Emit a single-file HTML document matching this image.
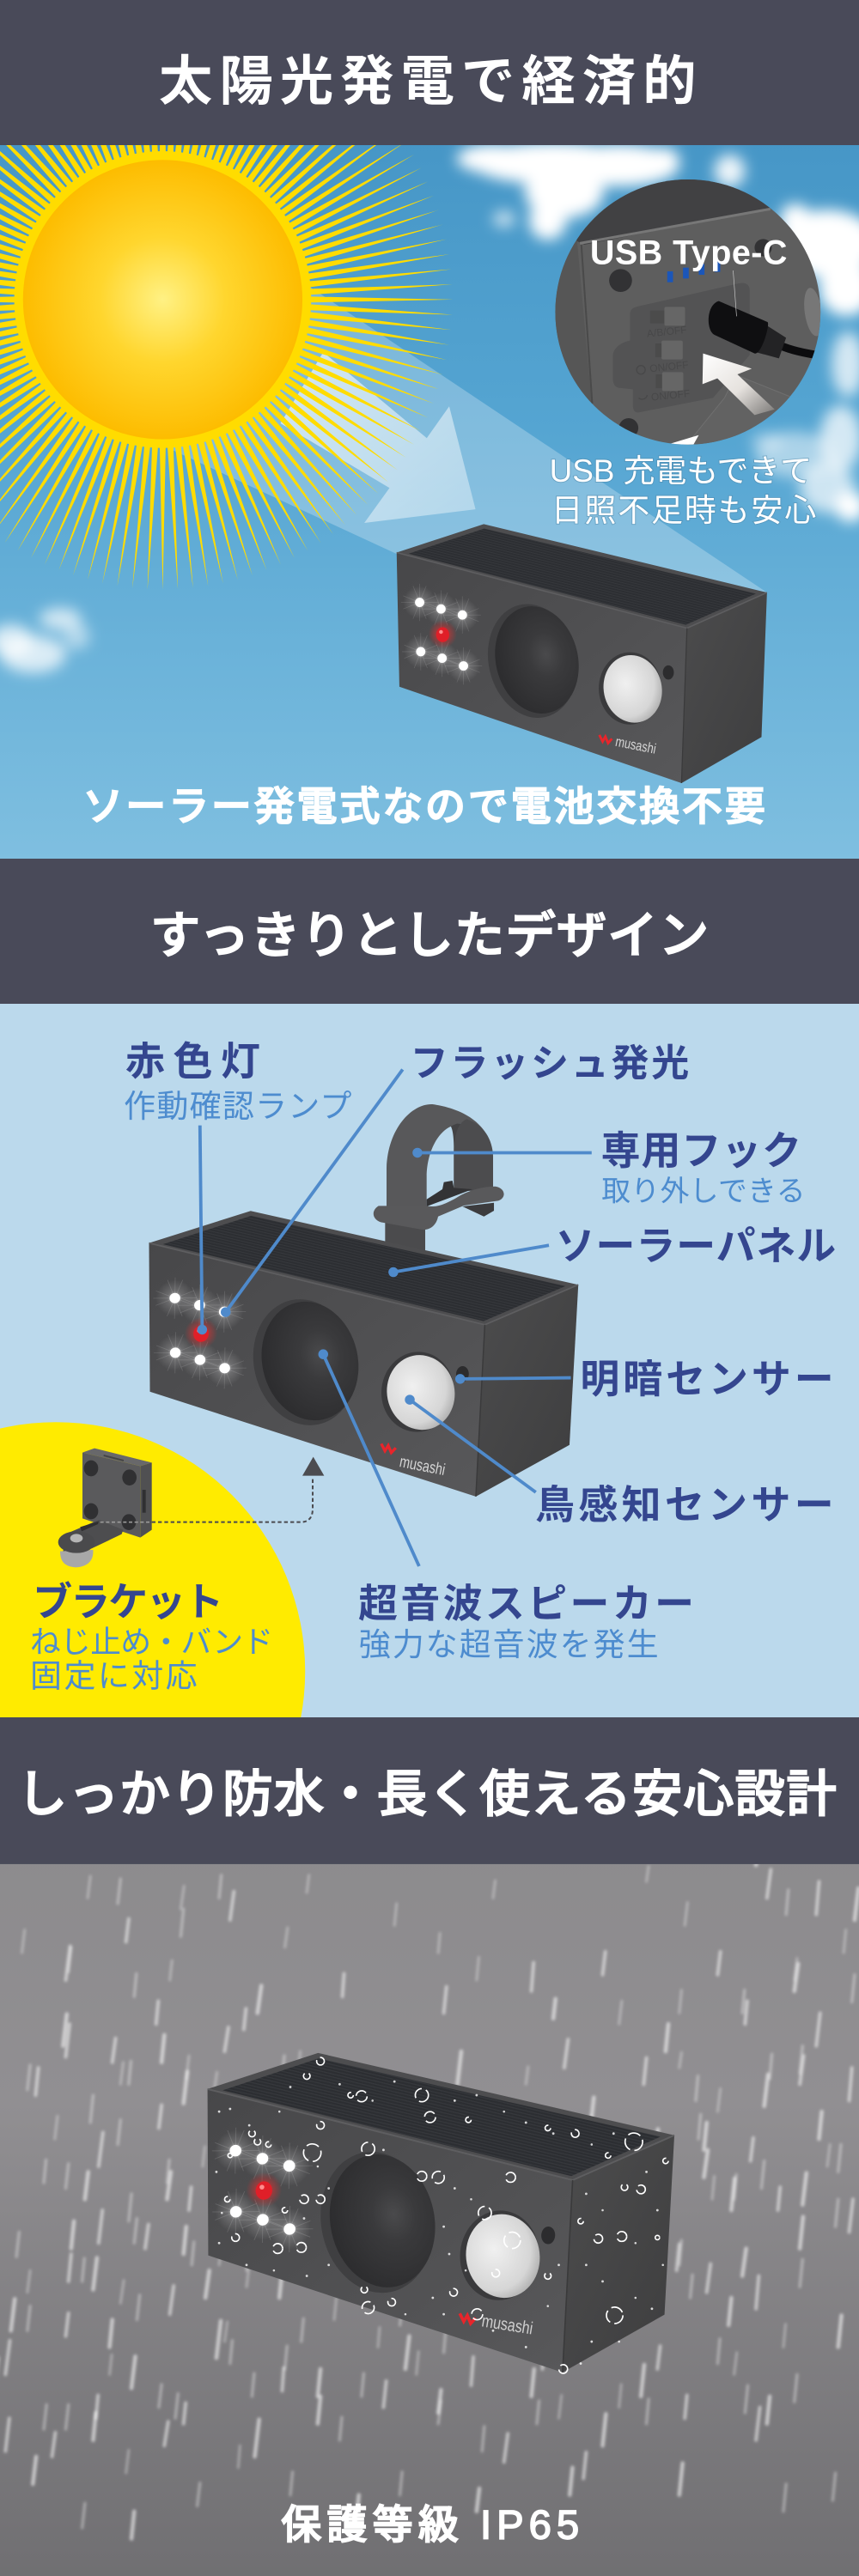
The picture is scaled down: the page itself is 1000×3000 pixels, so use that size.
<!DOCTYPE html>
<html lang="ja"><head><meta charset="utf-8"><title>太陽光発電で経済的</title>
<style>
html,body{margin:0;padding:0;background:#fff}
svg{display:block}
text{font-family:"Liberation Sans","Noto Sans CJK JP",sans-serif}
.h{fill:#fff;font-weight:700}
.m{fill:#fff;font-weight:500;stroke:#fff;stroke-width:2.6}
.l{fill:#34468f;font-weight:700;font-size:72px}
.s{fill:#4d8ccf;font-weight:400}
.c{stroke:#4f8acb;stroke-width:6;fill:none}
.d{fill:#4f8acb}
</style></head><body>
<svg xmlns="http://www.w3.org/2000/svg" width="1000" height="3000" viewBox="0 0 1000 3000">
<defs>
<clipPath id="sec"><rect width="1568" height="1568"/></clipPath>
<clipPath id="ins"><circle cx="512" cy="490" r="463"/></clipPath>
<linearGradient id="sky" x1="0" y1="0" x2="0" y2="1"><stop offset="0" stop-color="#3f8fc1"/><stop offset=".5" stop-color="#55a5d2"/><stop offset="1" stop-color="#7fbfe0"/></linearGradient>
<radialGradient id="sun"><stop offset="0" stop-color="#fff184"/><stop offset=".45" stop-color="#ffd62e"/><stop offset="1" stop-color="#fdbc00"/></radialGradient>
<linearGradient id="fr" x1="0" y1="0" x2="1" y2="1"><stop offset="0" stop-color="#474749"/><stop offset="1" stop-color="#58585a"/></linearGradient>
<linearGradient id="rt" x1="0" y1="0" x2="1" y2="1"><stop offset="0" stop-color="#4c4c4d"/><stop offset="1" stop-color="#3e3e3f"/></linearGradient>
<radialGradient id="spk" cx=".62" cy=".47" r=".6"><stop offset="0" stop-color="#4a4a4c"/><stop offset=".35" stop-color="#3a3a3c"/><stop offset="1" stop-color="#2d2d2f"/></radialGradient>
<radialGradient id="pir" cx=".4" cy=".4" r=".7"><stop offset="0" stop-color="#f0f0f0"/><stop offset=".7" stop-color="#d6d6d6"/><stop offset="1" stop-color="#a4a4a4"/></radialGradient>
<radialGradient id="gl"><stop offset="0" stop-color="#fff" stop-opacity=".7"/><stop offset=".4" stop-color="#fff" stop-opacity=".18"/><stop offset="1" stop-color="#fff" stop-opacity="0"/></radialGradient>
<radialGradient id="rg"><stop offset="0" stop-color="#ff2a2a" stop-opacity=".8"/><stop offset="1" stop-color="#ff2a2a" stop-opacity="0"/></radialGradient>
<linearGradient id="arr" x1="0" y1="0" x2="1" y2="1"><stop offset="0" stop-color="#fff" stop-opacity=".85"/><stop offset="1" stop-color="#fff" stop-opacity=".45"/></linearGradient>
<linearGradient id="usbarr" x1="0" y1="0" x2="1" y2="1"><stop offset="0" stop-color="#fff"/><stop offset=".55" stop-color="#e6e2de"/><stop offset="1" stop-color="#7a7876"/></linearGradient>
<linearGradient id="gray" x1="0" y1="0" x2="0" y2="1"><stop offset="0" stop-color="#8a898b"/><stop offset=".45" stop-color="#918f92"/><stop offset="1" stop-color="#706f72"/></linearGradient>
<pattern id="sol" width="4.4" height="4.4" patternUnits="userSpaceOnUse" patternTransform="rotate(14)"><rect width="4.4" height="4.4" fill="#2c2e32"/><rect width="4.4" height="1.5" fill="#36383c"/></pattern>
<filter id="b8" x="-40%" y="-40%" width="180%" height="180%"><feGaussianBlur stdDeviation="13"/></filter>
<filter id="b1" x="-100%" y="-30%" width="300%" height="160%"><feGaussianBlur stdDeviation="2.6"/></filter>

<polygon id="ray" points="262,-5.6 530,0 262,5.6" fill="#ffdc00"/>
<g id="r5"><use href="#ray"/><use href="#ray" transform="rotate(3)"/><use href="#ray" transform="rotate(6)"/><use href="#ray" transform="rotate(9)"/><use href="#ray" transform="rotate(12)"/></g>
<g id="r20"><use href="#r5"/><use href="#r5" transform="rotate(15)"/><use href="#r5" transform="rotate(30)"/><use href="#r5" transform="rotate(45)"/></g>
<g id="r120"><use href="#r20"/><use href="#r20" transform="rotate(60)"/><use href="#r20" transform="rotate(120)"/><use href="#r20" transform="rotate(180)"/><use href="#r20" transform="rotate(240)"/><use href="#r20" transform="rotate(300)"/></g>

<g id="led"><circle r="30" fill="url(#gl)"/><g stroke="#fff" stroke-opacity=".13" stroke-width="1.2"><path d="M-30 -12L30 12M-30 12L30 -12M-12 -30L12 30M12 -30L-12 30M-34 0H34M0 -34V34"/></g><circle r="8.5" fill="#fff"/></g>

<g id="box">
<polygon points="724,1009 883,957 1400,1082 1254,1147" fill="#4d4d4f"/>
<polygon points="746,1011 884,965 1380,1084 1252,1141" fill="url(#sol)"/>
<polygon points="724,1009 1254,1147 1244,1430 729,1254" fill="url(#fr)"/>
<polygon points="1254,1147 1400,1082 1390,1346 1244,1430" fill="url(#rt)"/>
<path d="M724 1009L1254 1147L1400 1082" fill="none" stroke="#5e5e60" stroke-width="2.5"/>
<path d="M1254 1147L1244 1430" fill="none" stroke="#3a3a3b" stroke-width="2"/>
<ellipse cx="972" cy="1207" rx="80" ry="105" transform="rotate(-13 972 1207)" fill="#3f3f41"/>
<ellipse cx="980" cy="1205" rx="75" ry="99" transform="rotate(-13 980 1205)" fill="url(#spk)"/>
<ellipse cx="1150" cy="1257" rx="57" ry="66" fill="#3a3a3c"/>
<ellipse cx="1155" cy="1258" rx="53" ry="62" transform="rotate(-12 1155 1258)" fill="url(#pir)"/>
<ellipse cx="1220" cy="1228" rx="10" ry="13" fill="#2c2c2e"/>
<use href="#led" x="766" y="1100"/><use href="#led" x="805" y="1112"/><use href="#led" x="844" y="1123"/>
<use href="#led" x="768" y="1190"/><use href="#led" x="807" y="1202"/><use href="#led" x="846" y="1216"/>
<circle cx="808" cy="1158" r="26" fill="url(#rg)"/>
<ellipse cx="808" cy="1159" rx="12" ry="13.5" fill="#e01f28"/><circle cx="805" cy="1154" r="3.5" fill="#ff8d8d"/>
<path d="M1094 1342L1100 1354L1105 1345L1110 1357L1117 1349" fill="none" stroke="#e8252b" stroke-width="4.5"/>
</g>

<g id="rainA" stroke="#fff" stroke-linecap="round" fill="none">
<path stroke-width="6" stroke-opacity=".55" d="M120 480l8-62M230 410l5-42M420 370l7-52M625 510l3-42M285 560l4-42M120 620l7-60M65 690l5-50M205 630l6-44M445 570l4-38M410 610l7-44M810 540l5-48M970 500l4-52M1030 640l7-52M1175 670l5-48M1400 330l7-52M1490 360l5-60M1310 470l5-42M1490 600l7-60M1360 560l4-42M1100 470l5-42"/>
<path stroke-width="4.5" stroke-opacity=".35" d="M160 330l5-40M330 350l6-42M520 420l5-36M720 380l4-40M900 330l4-32M1250 380l5-42M1180 300l4-28M1450 480l5-40M40 430l5-42M310 480l4-36M560 320l4-32M800 430l3-36M1130 560l5-42M1240 540l4-42M340 660l5-42M545 650l3-40M870 480l4-42M1540 430l4-42"/>
</g>
<g id="rainB" stroke="#fff" stroke-linecap="round" fill="none">
<path stroke-width="7" stroke-opacity=".58" d="M465 1350l8-68M240 1225l7-58M580 1240l5-50M740 1190l7-60M200 1150l5-50M20 1120l7-58M375 1060l7-50M1080 730l4-36M1285 790l5-50M1465 890l7-58M1355 1020l7-50M1240 1420l6-58M1400 1290l5-50M1100 1330l6-58M1530 1150l6-58M1040 1420l5-50M60 1400l6-50M240 1500l5-50M650 1470l5-50M870 1450l5-42"/>
<path stroke-width="5" stroke-opacity=".38" d="M120 860l5-45M235 920l5-50M30 985l5-45M305 850l4-42M150 1030l4-42M320 1280l5-45M120 1300l5-45M520 1190l4-42M420 1180l4-42M620 1320l4-42M800 1290l5-42M980 1290l4-42M1180 1290l4-45M1310 1180l4-45M1460 1040l5-50M1530 830l5-50M1340 880l4-45M1260 1060l4-42M1430 1450l5-50M1520 1430l5-50M880 1340l4-45M730 1420l4-42M530 1420l4-42M360 1440l5-42M150 1480l5-45"/>
</g>
</defs>

<!-- SECTION 1 -->
<g transform="scale(.63776)" clip-path="url(#sec)">
<rect width="1568" height="1568" fill="url(#sky)"/>
<g fill="#fff" filter="url(#b8)">
<ellipse cx="900" cy="290" rx="66" ry="26"/><ellipse cx="1010" cy="298" rx="150" ry="38"/><ellipse cx="1130" cy="302" rx="110" ry="38"/><ellipse cx="1030" cy="350" rx="72" ry="48"/><ellipse cx="1000" cy="402" rx="34" ry="36"/><ellipse cx="1210" cy="292" rx="30" ry="22"/><ellipse cx="1332" cy="312" rx="28" ry="30" fill-opacity=".9"/><ellipse cx="920" cy="400" rx="20" ry="15" fill-opacity=".7"/>
<ellipse cx="1510" cy="445" rx="90" ry="62"/><ellipse cx="1545" cy="525" rx="50" ry="52"/><ellipse cx="1452" cy="400" rx="28" ry="28"/><ellipse cx="1548" cy="665" rx="30" ry="60" fill-opacity=".75"/><ellipse cx="1535" cy="800" rx="38" ry="60" fill-opacity=".75"/><ellipse cx="1450" cy="830" rx="70" ry="42" fill-opacity=".5"/><ellipse cx="1510" cy="890" rx="50" ry="46" fill-opacity=".7"/><ellipse cx="1552" cy="925" rx="28" ry="28"/><ellipse cx="1400" cy="806" rx="30" ry="16" fill-opacity=".4"/>
<ellipse cx="60" cy="1195" rx="60" ry="34" fill-opacity=".75"/><ellipse cx="110" cy="1130" rx="38" ry="20" fill-opacity=".7"/><ellipse cx="20" cy="1170" rx="40" ry="30" fill-opacity=".75"/><ellipse cx="140" cy="1162" rx="24" ry="24" fill-opacity=".5"/>
</g>
<polygon points="560,520 1400,1082 1254,1300 725,1012 300,815" fill="#fff" fill-opacity=".26"/>
<polygon points="868,930 820,742 779,800 590,643 512,773 711,891 665,955" fill="url(#arr)" fill-opacity=".8"/>
<circle cx="297" cy="547" r="271" fill="#ffdc00"/>
<use href="#r120" transform="translate(297,547)"/>
<circle cx="297" cy="547" r="255" fill="url(#sun)"/>

<!-- USB inset -->
<g transform="translate(988,313.6) scale(.5227)" clip-path="url(#ins)">
<rect width="1020" height="1000" fill="#5e5e5e"/>
<polygon points="0,0 1020,0 1020,90 800,128 150,255 120,240 0,300" fill="#414143"/>
<path d="M135 250L800 130" stroke="#777" stroke-width="9"/>
<polygon points="0,300 125,240 175,800 200,1000 0,1000" fill="#565656"/>
<path d="M140 255L178 810" stroke="#4a4a4a" stroke-width="6"/>
<circle cx="277" cy="380" r="40" fill="#323234"/><circle cx="775" cy="265" r="30" fill="#323234"/><circle cx="305" cy="895" r="34" fill="#323234"/>
<path d="M310 500C310 480 320 475 340 470L690 390C715 385 728 395 728 415V640L600 790L345 840C325 845 320 830 320 815V760L270 755C255 750 250 740 250 720V640C255 610 285 595 310 590Z" fill="#535354"/>
<rect x="380" y="485" width="60" height="45" fill="#4b4b4b"/><rect x="430" y="472" width="72" height="66" rx="6" fill="#666"/>
<rect x="398" y="600" width="40" height="48" fill="#4b4b4b"/><rect x="420" y="590" width="74" height="66" rx="6" fill="#666"/>
<rect x="400" y="708" width="40" height="48" fill="#4b4b4b"/><rect x="422" y="700" width="74" height="66" rx="6" fill="#666"/>
<g fill="#484849" font-size="36"><text x="370" y="578" transform="rotate(-6 370 578)">A/B/OFF</text><text x="380" y="700" transform="rotate(-6 380 700)">ON/OFF</text><text x="385" y="800" transform="rotate(-6 385 800)">ON/OFF</text></g>
<circle cx="348" cy="692" r="15" fill="none" stroke="#484849" stroke-width="4"/><path d="M340 790a18 18 0 0 0 30 -10" fill="none" stroke="#484849" stroke-width="4"/>
<g fill="#1b56b9"><rect x="440" y="348" width="20" height="38"/><rect x="495" y="335" width="20" height="38"/><rect x="550" y="322" width="20" height="38"/><rect x="605" y="312" width="20" height="38"/></g>
<ellipse cx="950" cy="490" rx="30" ry="85" fill="#777" transform="rotate(-8 950 490)"/>
<path d="M805 595C860 620 900 630 960 640" fill="none" stroke="#0c0c0e" stroke-width="28"/>
<polygon points="745,510 855,580 830,652 730,625" fill="#232325"/>
<path d="M620 452L790 525C800 530 770 640 745 635L605 570C575 555 575 465 620 452Z" fill="#0f0f11"/>
<path d="M680 710L880 790L720 1000H470L640 790Z" fill="#626262" stroke="#6f6f6f" stroke-width="3"/>
<polygon points="565,635 735,688 685,708 815,830 745,850 615,722 563,742" fill="url(#usbarr)"/>
<polygon points="450,950 550,920 525,965 450,965" fill="#fff"/>
<path d="M670 345L682 505" stroke="#ccc" stroke-width="2"/>
</g>
<text x="1077" y="482" font-size="62" font-weight="700" fill="#fff" textLength="360">USB Type-C</text>
<g fill="#fff" font-size="58" style="paint-order:stroke" stroke="#4d86a8" stroke-opacity=".5" stroke-width="3">
<text x="1003" y="880" textLength="479">USB 充電もできて</text>
<text x="1006" y="952" textLength="484">日照不足時も安心</text>
</g>

<use href="#box"/>
<text x="1122" y="1362" font-size="26" fill="#d6d6d6" transform="rotate(11 1122 1362)" textLength="75" lengthAdjust="spacingAndGlyphs">musashi</text>

<rect width="1568" height="265" fill="#494a59"/>
<text class="h" x="290" y="182" font-size="98" textLength="981">太陽光発電で経済的</text>
<text class="m" x="151" y="1498" font-size="74" textLength="1246">ソーラー発電式なので電池交換不要</text>
</g>

<!-- SECTION 2 -->
<g transform="translate(0,1000) scale(.63776)" clip-path="url(#sec)">
<rect width="1568" height="1568" fill="#bbd9ec"/>
<circle cx="102" cy="1484" r="455" fill="#ffeb00"/>

<!-- hook -->
<g transform="translate(627.2,423.4) scale(.5227)">
<rect x="145" y="450" width="140" height="130" fill="#4b4b4d"/>
<polygon points="415,405 525,392 525,420 490,440" fill="#3c3c3e"/>
<path d="M385 350V200C385 150 378 125 370 120C430 100 510 130 520 230V350Z" fill="#434345"/>
<path d="M150 420V270C155 130 240 45 310 48C430 65 515 125 522 230C500 140 430 90 375 125C320 150 290 230 290 300V440Z" fill="#58585a"/>
<path d="M385 350V210C385 160 400 110 430 100C490 120 520 170 522 230V350Z" fill="#4c4c4e"/>
<polygon points="290,380 345,345 350,320 380,315 385,340 450,345 290,405" fill="#333335"/>
<path d="M122 403H290C320 408 345 405 410 365C450 345 490 335 530 335C565 340 570 375 540 385L420 402L330 440C322 480 290 490 270 485L130 460C100 450 95 420 122 403Z" fill="#59595b"/>
</g>

<use href="#box" transform="matrix(1.161,-.007,-.017,1.108,-551.4,-411)"/>
<text x="728" y="1110" font-size="30" fill="#d6d6d6" transform="rotate(11 728 1110)" textLength="84" lengthAdjust="spacingAndGlyphs">musashi</text>

<!-- bracket -->
<g transform="translate(0,1019.2) scale(.5227)">
<polygon points="288,125 330,110 530,160 490,172" fill="#68686a"/>
<polygon points="490,172 530,160 530,395 490,422" fill="#505052"/>
<polygon points="288,125 490,172 490,422 288,355" fill="#5a5a5c"/>
<g fill="#303032"><ellipse cx="318" cy="180" rx="25" ry="28"/><ellipse cx="452" cy="212" rx="25" ry="28"/><ellipse cx="318" cy="330" rx="25" ry="28"/><ellipse cx="450" cy="368" rx="25" ry="28"/></g>
<rect x="497" y="255" width="12" height="80" fill="#2f2f31"/>
<polygon points="362,132 432,150 432,156 362,138" fill="#444"/>
<path d="M240 405L345 360L430 395L425 410L320 460L220 470Z" fill="#4d4d4f"/>
<path d="M210 470C210 505 225 524 265 526C310 524 328 498 325 465Z" fill="#a8a8a8"/>
<ellipse cx="267" cy="438" rx="64" ry="38" fill="#4a4a4c"/>
<ellipse cx="267" cy="424" rx="22" ry="15" fill="#b5b5b5"/>
<path d="M280 385L345 365L342 375L285 400Z" fill="#2f2f31"/>
<path d="M350 368H530" stroke="#9a9a9a" stroke-width="5" stroke-dasharray="12 8"/>
<path d="M530 368H1050Q1092 368 1092 320V210" fill="none" stroke="#4a4a4f" stroke-width="6" stroke-dasharray="13 9"/>
<polygon points="1094,140 1132,206 1056,206" fill="#4c4c50"/>
</g>

<g class="c">
<path class="c" d="M365 487L369 860"/><path class="c" d="M735 385L412 828"/><path class="c" d="M1080 537H762"/><path class="c" d="M1002 706L718 755"/><path class="c" d="M1042 948L840 950"/><path class="c" d="M978 1157L748 988"/><path class="c" d="M765 1292L590 905"/>
</g>
<g class="d"><circle cx="369" cy="860" r="9"/><circle cx="412" cy="828" r="9"/><circle cx="762" cy="537" r="9"/><circle cx="718" cy="755" r="9"/><circle cx="840" cy="950" r="9"/><circle cx="748" cy="988" r="9"/><circle cx="590" cy="905" r="9"/></g>

<text class="l" x="229" y="395" textLength="246">赤色灯</text>
<text class="s" x="226" y="472" font-size="58" textLength="416">作動確認ランプ</text>
<text class="l" x="749" y="397" style="font-size:69px" textLength="509">フラッシュ発光</text>
<text class="l" x="1097" y="558" textLength="366">専用フック</text>
<text class="s" x="1098" y="625" font-size="53" textLength="372">取り外しできる</text>
<text class="l" x="1014" y="732" textLength="512">ソーラーパネル</text>
<text class="l" x="1059" y="975" textLength="463">明暗センサー</text>
<text class="l" x="977" y="1205" textLength="545">鳥感知センサー</text>
<text class="l" x="654" y="1385" textLength="613">超音波スピーカー</text>
<text class="s" x="655" y="1455" font-size="58" textLength="547">強力な超音波を発生</text>
<text class="l" x="60" y="1382" textLength="348">ブラケット</text>
<text class="s" x="55" y="1450" font-size="56" textLength="444">ねじ止め・バンド</text>
<text class="s" x="55" y="1512" font-size="58" textLength="305">固定に対応</text>

<rect width="1568" height="265" fill="#494a59"/>
<text class="m" x="274" y="172" font-size="92" textLength="1020">すっきりとしたデザイン</text>
</g>

<!-- SECTION 3 -->
<g transform="translate(0,2000) scale(.63776)" clip-path="url(#sec)">
<rect width="1568" height="1568" fill="url(#gray)"/>
<g filter="url(#b1)"><use href="#rainA"/><use href="#rainB"/><use href="#rainA" transform="translate(60,340)"/><use href="#rainB" transform="translate(-70,-180)"/><use href="#rainA" transform="translate(-110,720)"/><use href="#rainB" transform="translate(95,-520)"/></g>

<use href="#box" transform="matrix(1.2628,-.0092,-.0204,1.2403,-514.9,-566)"/>
<text x="878" y="1112" font-size="32" fill="#cfcfcf" transform="rotate(9 878 1112)" textLength="94" lengthAdjust="spacingAndGlyphs">musashi</text>

<g fill="none" stroke="#fff" stroke-width="2.6" stroke-dasharray="24 8">
<circle cx="570" cy="795" r="16"/><circle cx="1157" cy="775" r="16"/><circle cx="935" cy="955" r="15"/><circle cx="1122" cy="1092" r="15"/>
<circle cx="672" cy="788" r="12"/><circle cx="770" cy="838" r="9"/><circle cx="800" cy="840" r="11"/><circle cx="660" cy="692" r="10"/><circle cx="770" cy="690" r="12"/><circle cx="785" cy="730" r="10"/><circle cx="885" cy="905" r="12"/><circle cx="672" cy="1078" r="11"/><circle cx="871" cy="1090" r="10"/><circle cx="1028" cy="1190" r="8"/>
<circle cx="430" cy="950" r="7"/><circle cx="507" cy="970" r="9"/><circle cx="550" cy="968" r="9"/><circle cx="1092" cy="952" r="8"/><circle cx="1135" cy="948" r="9"/><circle cx="1170" cy="862" r="8"/><circle cx="1140" cy="858" r="6"/><circle cx="905" cy="1015" r="7"/><circle cx="1000" cy="1020" r="6"/><circle cx="715" cy="1068" r="7"/><circle cx="828" cy="1050" r="7"/><circle cx="555" cy="880" r="8"/><circle cx="585" cy="880" r="8"/><circle cx="585" cy="745" r="7"/><circle cx="585" cy="628" r="7"/><circle cx="560" cy="655" r="6"/><circle cx="1215" cy="810" r="5"/><circle cx="932" cy="840" r="9"/><circle cx="1050" cy="760" r="7"/><circle cx="665" cy="1045" r="6"/><circle cx="470" cy="775" r="6"/><circle cx="415" cy="880" r="5"/><circle cx="460" cy="760" r="6"/><circle cx="490" cy="780" r="5"/><circle cx="420" cy="800" r="4"/><circle cx="520" cy="900" r="5"/><circle cx="640" cy="690" r="5"/><circle cx="855" cy="735" r="5"/><circle cx="1000" cy="750" r="5"/><circle cx="1110" cy="800" r="5"/><circle cx="1060" cy="920" r="5"/><circle cx="1200" cy="950" r="4"/>
</g>
<g fill="#fff" fill-opacity=".8">
<circle cx="420" cy="715" r="2.2"/><circle cx="455" cy="745" r="2.2"/><circle cx="510" cy="720" r="2"/><circle cx="530" cy="675" r="2.2"/><circle cx="620" cy="670" r="2.2"/><circle cx="680" cy="700" r="2"/><circle cx="720" cy="665" r="2.2"/><circle cx="830" cy="700" r="2.2"/><circle cx="870" cy="690" r="2.2"/><circle cx="920" cy="720" r="2"/><circle cx="960" cy="740" r="2.2"/><circle cx="1010" cy="760" r="2.2"/><circle cx="1080" cy="780" r="2"/><circle cx="1120" cy="760" r="2.2"/>
<circle cx="400" cy="720" r="2.2"/><circle cx="395" cy="830" r="2.2"/><circle cx="405" cy="905" r="2"/><circle cx="400" cy="960" r="2.2"/><circle cx="450" cy="1000" r="2.2"/><circle cx="500" cy="1010" r="2"/><circle cx="560" cy="1020" r="2.2"/><circle cx="600" cy="1000" r="2.2"/><circle cx="580" cy="820" r="2"/><circle cx="555" cy="915" r="2.2"/><circle cx="600" cy="860" r="2.2"/>
<circle cx="700" cy="790" r="2.2"/><circle cx="830" cy="860" r="2.2"/><circle cx="860" cy="880" r="2"/><circle cx="810" cy="930" r="2.2"/><circle cx="820" cy="980" r="2.2"/><circle cx="850" cy="1010" r="2"/><circle cx="790" cy="1060" r="2.2"/><circle cx="810" cy="1090" r="2.2"/><circle cx="740" cy="1090" r="2"/><circle cx="900" cy="1120" r="2.2"/><circle cx="960" cy="1150" r="2.2"/><circle cx="1000" cy="1075" r="2"/><circle cx="1020" cy="1000" r="2.2"/>
<circle cx="1070" cy="870" r="2.2"/><circle cx="1100" cy="900" r="2"/><circle cx="1180" cy="830" r="2.2"/><circle cx="1200" cy="900" r="2.2"/><circle cx="1160" cy="960" r="2"/><circle cx="1070" cy="1000" r="2.2"/><circle cx="1100" cy="1030" r="2.2"/><circle cx="1160" cy="1060" r="2"/><circle cx="1190" cy="1080" r="2.2"/><circle cx="1080" cy="1140" r="2.2"/><circle cx="1130" cy="1140" r="2"/><circle cx="1060" cy="1180" r="2.2"/><circle cx="1210" cy="1000" r="2"/>
</g>

<rect width="1568" height="268" fill="#494a59"/>
<text class="m" x="31" y="172" font-size="92" textLength="1496">しっかり防水・長く使える安心設計</text>
<text class="m" x="513" y="1500" font-size="74" textLength="544">保護等級 IP65</text>
</g>
</svg>
</body></html>
